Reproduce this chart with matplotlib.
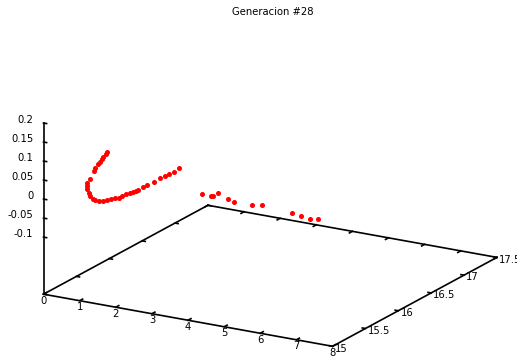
import matplotlib
matplotlib.use('Agg')
import matplotlib.pyplot as plt

titulo = "Generacion #28"

# individuos de la generacion (x, y, f)
xs = [1.20, 1.17, 1.09, 1.06, 1.01, 0.95, 0.89, 0.84,
      0.73, 0.67, 0.67, 0.67, 0.70, 0.73, 0.81, 0.89, 0.98, 1.09, 1.20, 1.31, 1.42, 1.53, 1.64,
      1.75, 1.86, 1.92, 2.00, 2.06, 2.20, 2.31, 2.50, 2.67, 2.81, 2.92, 3.06, 3.20,
      3.83, 4.08, 4.14, 4.27, 4.55, 4.74, 5.22, 5.49, 6.32, 6.57, 6.82, 7.04]
ys = [15.3, 15.3, 15.3, 15.3, 15.3, 15.3, 15.3, 15.3,
      15.3, 15.3, 15.3, 15.3, 15.3, 15.3, 15.3, 15.3, 15.3, 15.3, 15.3, 15.3, 15.3, 15.3, 15.3,
      15.3, 15.3, 15.3, 15.3, 15.3, 15.3, 15.3, 15.3, 15.3, 15.3, 15.3, 15.3, 15.3,
      15.3, 15.3, 15.3, 15.3, 15.3, 15.3, 15.3, 15.3, 15.3, 15.3, 15.3, 15.3]
zs = [0.116, 0.111, 0.101, 0.096, 0.087, 0.081, 0.069, 0.060,
      0.037, 0.026, 0.018, 0.010, 0.000, -0.007, -0.014, -0.015, -0.016, -0.014, -0.010, -0.005, -0.001, 0.001, 0.008,
      0.015, 0.020, 0.023, 0.027, 0.031, 0.041, 0.048, 0.060, 0.073, 0.081, 0.088, 0.096, 0.108,
      0.051, 0.050, 0.051, 0.061, 0.050, 0.046, 0.046, 0.050, 0.043, 0.040, 0.036, 0.040]

xticks = [0, 1, 2, 3, 4, 5, 6, 7, 8]
yticks = [15, 15.5, 16, 16.5, 17, 17.5]
zticks = [-0.1, -0.05, 0, 0.05, 0.1, 0.15, 0.2]

x0, x1 = 0, 8
y0, y1 = 15, 17.5
z0, z1 = -0.1, 0.2
zb = z0 - 0.5 * (z1 - z0)   # ticslevel 0.5

fig = plt.figure(figsize=(5.17, 3.56), dpi=100)
lado = 400
cx, cy = 264.8, 356 - 195.6
ax = fig.add_axes([(cx - lado / 2) / 517, (cy - lado / 2) / 356, lado / 517, lado / 356],
                  projection='3d', proj_type='ortho')
ax.view_init(elev=18.2, azim=-60)
ax.set_box_aspect((1, 0.985, 0.54), zoom=1.218)
ax.set_xlim(x0, x1)
ax.set_ylim(y0, y1)
ax.set_zlim(zb, z1)
ax.set_axis_off()

k = dict(color='black', lw=1.2, clip_on=False)
ax.plot([x0, x1], [y0, y0], [zb, zb], **k)
ax.plot([x1, x1], [y0, y1], [zb, zb], **k)
ax.plot([x1, x0], [y1, y1], [zb, zb], **k)
ax.plot([x0, x0], [y1, y0], [zb, zb], **k)
ax.plot([x0, x0], [y0, y0], [zb, z1], **k)

fs = 7.2
ty = 0.045
tx = 0.085
for v in xticks:
    ax.plot([v, v], [y0, y0 + ty], [zb, zb], **k)
    ax.plot([v, v], [y1, y1 - ty], [zb, zb], **k)
    ax.text(v, y0, zb - 0.017, '%g' % v, ha='center', va='center', fontsize=fs)
for v in yticks:
    ax.plot([x1, x1 - tx], [v, v], [zb, zb], **k)
    ax.plot([x0, x0 + tx], [v, v], [zb, zb], **k)
    ax.text(x1 + 0.06, v, zb - 0.005, '%g' % v, ha='left', va='center', fontsize=fs)
for v in zticks:
    ax.plot([x0, x0 + tx], [y0, y0], [v, v], **k)
    ax.text(x0 - 0.28, y0, v + 0.004, '%g' % v, ha='right', va='center', fontsize=fs)

ax.plot(xs, ys, zs, linestyle='none', marker='o', ms=2.6, color='red', mec='red', clip_on=False)

fig.text(272.5 / 517, 1 - 12 / 356, titulo, ha='center', va='center', fontsize=fs)

fig.savefig('out.png', dpi=100)
